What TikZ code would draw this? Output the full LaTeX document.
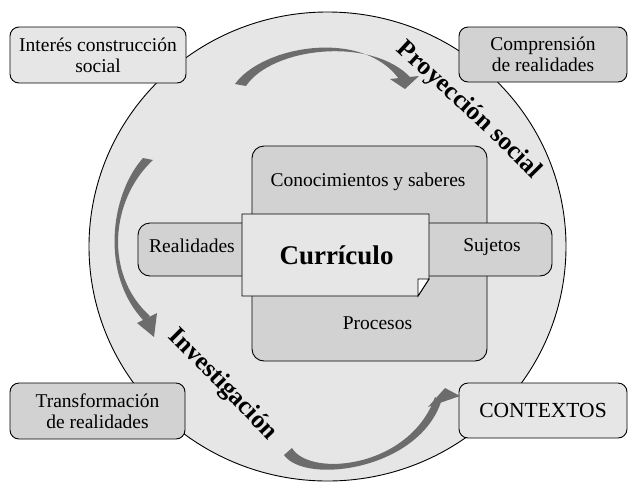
\documentclass[tikz,border=0pt]{standalone}
\usepackage{fontspec}
\setmainfont{Liberation Serif}
\usetikzlibrary{decorations.text}
\definecolor{ringgray}{RGB}{230,230,231}
\definecolor{boxgray}{RGB}{210,210,211}
\definecolor{swooshgray}{RGB}{108,108,108}

\begin{document}
\begin{tikzpicture}[line cap=round,line join=round,x=1pt,y=-1pt,
  lightbox/.style={draw=black,line width=0.9pt,fill=ringgray,rounded corners=9pt,align=center,inner sep=0pt,font=\fontsize{19.5}{21}\selectfont},
  darkbox/.style={lightbox,fill=boxgray},
  innerbox/.style={draw=black,line width=0.9pt,fill=boxgray,rounded corners=12pt},
  lbl/.style={inner sep=0pt,anchor=base,font=\fontsize{19.5}{21}\selectfont},
  swoosh/.style={fill=swooshgray}]
\useasboundingbox (0,0) rectangle (629,483);
% big ring
\draw [line width=0.9pt,fill=ringgray] (327.5,246.5) ellipse [x radius=238.5,y radius=234.5];
% corner boxes
\node [lightbox,minimum width=176pt,minimum height=56pt] (interes) at (98,55) {Interés construcción\\social};
\node [darkbox,minimum width=168pt,minimum height=55pt] (comprension) at (543,54.5) {Comprensión\\de realidades};
\node [darkbox,minimum width=175pt,minimum height=56pt] (transformacion) at (97.5,411) {Transformación\\de realidades};
\node [lightbox,minimum width=168pt,minimum height=55pt,font=\fontsize{21.5}{23}\selectfont] (contextos) at (543,410.5) {CONTEXTOS};
% swoosh arrows
\fill [swoosh] (235,84) .. controls (262,46) and (362,28) .. (399,79) -- (411,78) .. controls (372,36) and (272,47) .. (246,86) -- cycle;
\fill [swoosh] (390,79) -- (419,76) -- (405,89) -- cycle;
\fill [swoosh] (143,158) .. controls (110,195) and (100,275) .. (144,321) -- (150,316) .. controls (104,275) and (110,200) .. (153,160) -- cycle;
\fill [swoosh] (137,323) -- (157,313) -- (154,337) -- cycle;
\fill [swoosh] (284,455) .. controls (305,485) and (418,470) .. (441,402) -- (435,397) .. controls (410,468) and (310,478) .. (292,448) -- cycle;
\fill [swoosh] (428,407) -- (445,388) -- (460,396) -- cycle;
% central cross
\draw [innerbox] (252,146) rectangle (487,361);
\draw [innerbox] (138,223) rectangle (552,276);
\draw [line width=0.9pt,line join=miter,fill=ringgray] (242,214) -- (429,214) -- (429,279) -- (418,296) -- (242,296) -- cycle;
\draw [line width=0.9pt,line join=miter,fill=white] (418,279) -- (429,279) -- (418,296) -- cycle;
\node [lbl] (saberes) at (368,186) {Conocimientos y saberes};
\node [lbl] (procesos) at (377.5,329) {Procesos};
\node [lbl] (realidades) at (192,252) {Realidades};
\node [lbl] (sujetos) at (492,251) {Sujetos};
\node [lbl,font=\fontsize{27}{28}\selectfont\bfseries] (curriculo) at (336.5,264) {Currículo};
% curved titles
\path [decorate,decoration={text along path,text align=center,text={|\fontsize{25.5}{26}\selectfont\bfseries|Proyección social}}] (387,42) .. controls (425,78) and (485,130) .. (541,188);
\path [decorate,decoration={text along path,text align=center,text={|\fontsize{25.5}{26}\selectfont\bfseries|Investigación}}] (160,330) .. controls (195,365) and (235,405) .. (275,448);
\end{tikzpicture}
\end{document}
